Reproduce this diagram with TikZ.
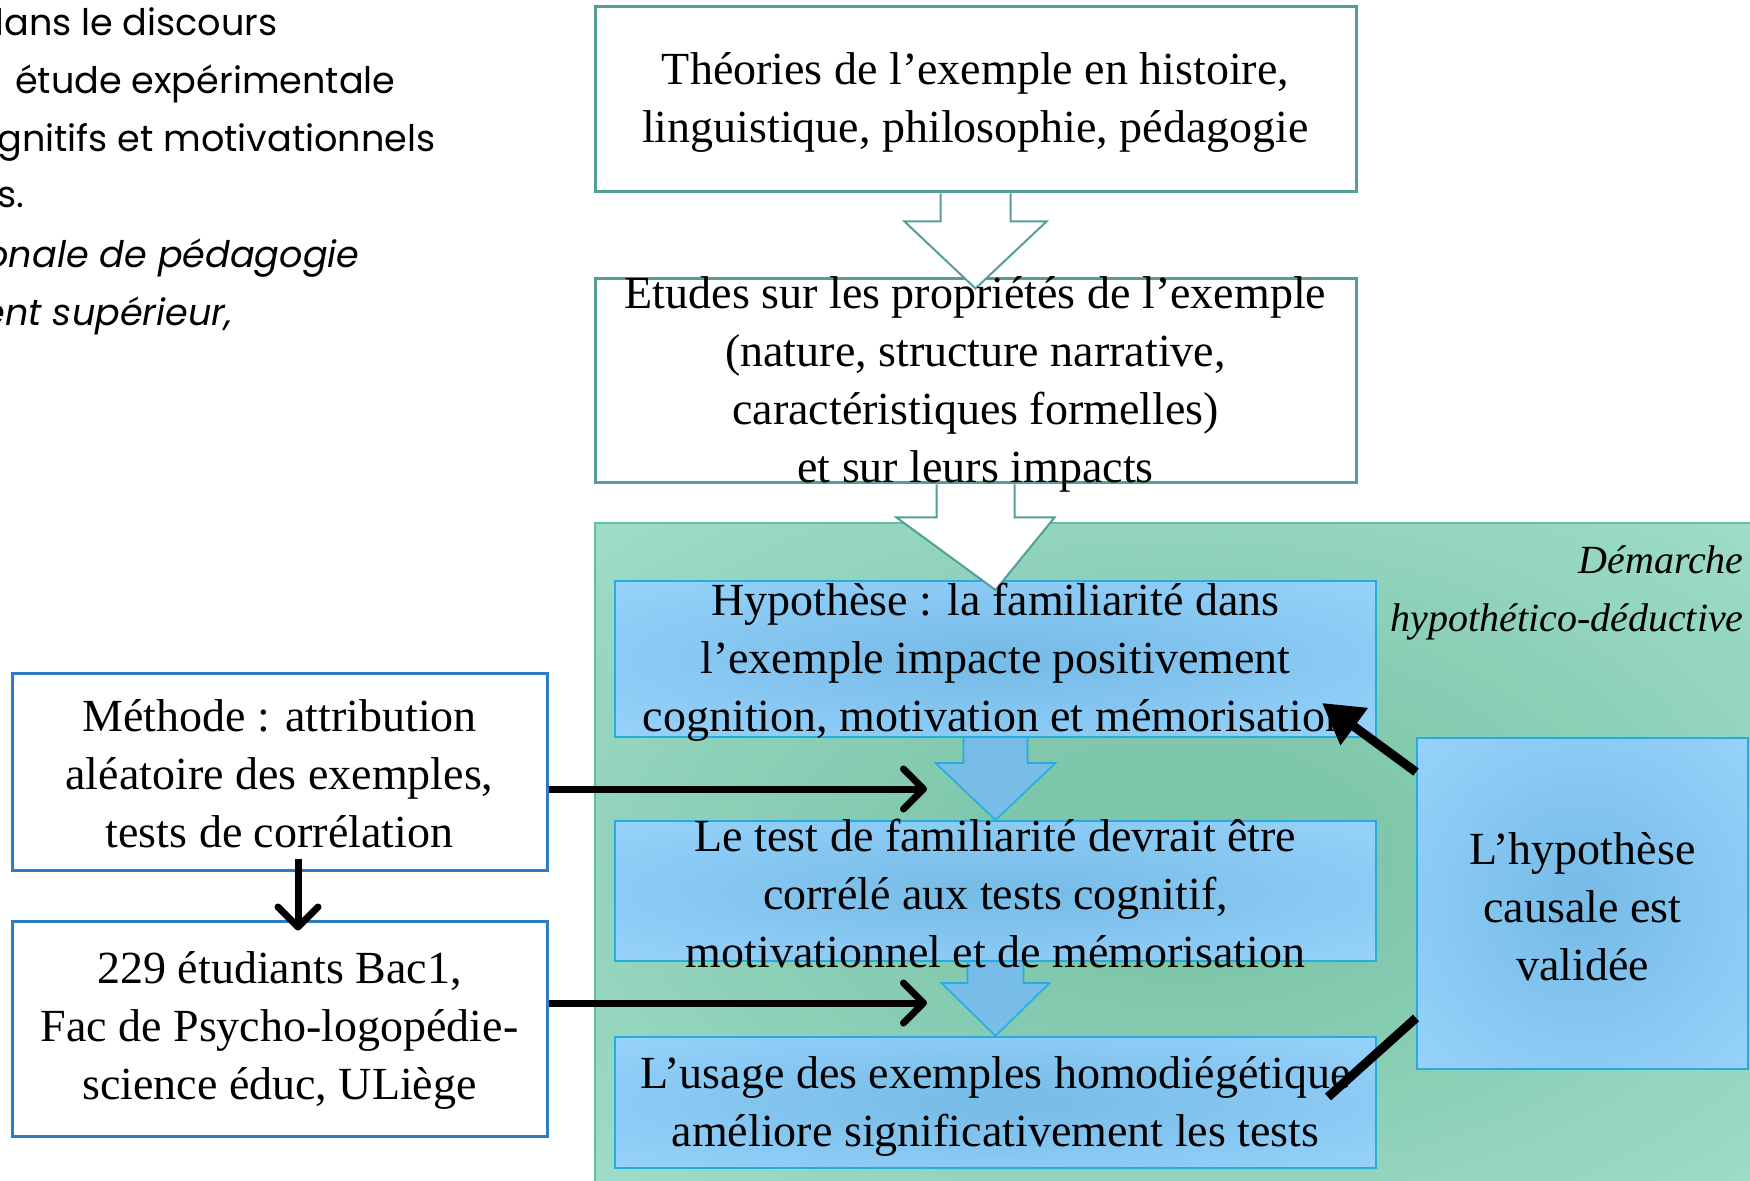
\documentclass[tikz,border=0pt]{standalone}
\usepackage{fontspec}
\setmainfont{Liberation Serif}
\newfontfamily\futfont{Poppins}
\usetikzlibrary{arrows.meta,calc,fit}
\pgfdeclarelayer{bg}
\pgfdeclarelayer{mid}
\pgfsetlayers{bg,mid,main}
\definecolor{teal1}{RGB}{84,158,154}
\definecolor{grnin}{RGB}{126,198,170}
\definecolor{grnout}{RGB}{166,226,206}
\definecolor{grnline}{RGB}{100,190,160}
\definecolor{bluein}{RGB}{120,189,232}
\definecolor{blueout}{RGB}{153,212,253}
\definecolor{cyanline}{RGB}{38,172,226}
\definecolor{leftline}{RGB}{46,125,196}
\pgfdeclareradialshading{grnrad}{\pgfpoint{0bp}{0bp}}{color(0bp)=(grnin); color(8bp)=(grnin); color(42bp)=(grnout); color(75bp)=(grnout)}
\pgfdeclareradialshading{bluerad}{\pgfpoint{0bp}{0bp}}{color(0bp)=(bluein); color(4bp)=(bluein); color(38bp)=(blueout); color(75bp)=(blueout)}
\begin{document}
\begin{tikzpicture}[x=0.5pt,y=-0.5pt,
  greenbox/.style={draw=grnline, line width=1pt, shade, shading=grnrad, inner sep=0pt},
  tealbox/.style={draw=teal1, line width=1.5pt, fill=white, inner sep=0pt},
  bluebox/.style={draw=cyanline, line width=1pt, shade, shading=bluerad, inner sep=0pt},
  leftbox/.style={draw=leftline, line width=1.5pt, fill=white, inner sep=0pt},
  txt/.style={align=center, font=\fontsize{23}{29}\selectfont, inner sep=0pt},
  tl/.style={font=\futfont\fontsize{18.3}{29}\selectfont, inner sep=0pt},
  tli/.style={font=\futfont\itshape\fontsize{18.3}{29}\selectfont, inner sep=0pt},
  hollowarr/.style={draw=teal1, line width=1pt, fill=white},
  bluearr/.style={draw=cyanline, line width=0.8pt, fill=bluein},
  blk/.style={line width=3.5pt, -{Straight Barb[length=10pt,width=20pt,round]}},
  blkbig/.style={line width=4.5pt, -{Triangle[length=20pt,width=22pt]}},
  blkline/.style={line width=4.5pt}]
\useasboundingbox (0,0) rectangle (1750,1181);
\clip (0,0) rectangle (1750,1181);

\begin{pgfonlayer}{bg}
\node[greenbox, fit={(595,523)(1765,1195)}] (grn) {};
\node[tealbox, fit={(595,7)(1356,192)}] (b1) {};
\node[tealbox, fit={(595,279)(1356,483)}] (b2) {};
\node[bluebox, fit={(615,581)(1376,737)}] (hyp) {};
\node[bluebox, fit={(615,821)(1376,961)}] (tst) {};
\node[bluebox, fit={(615,1037)(1376,1168)}] (usg) {};
\node[bluebox, fit={(1417,738)(1748,1069)}] (val) {};
\node[leftbox, fit={(12,673)(547,870)}] (meth) {};
\node[leftbox, fit={(12,921)(547,1136)}] (stud) {};
\end{pgfonlayer}

\begin{pgfonlayer}{mid}
\draw[hollowarr] ($(b1.south)+(-35,0)$) -- ($(b1.south)+(-35,28)$) -- ($(b1.south)+(-71,28)$) -- ($(b2.north)+(0,11)$) -- ($(b1.south)+(71,28)$) -- ($(b1.south)+(35,28)$) -- ($(b1.south)+(35,0)$);
\draw[hollowarr] ($(b2.south)+(-39,0)$) -- ($(b2.south)+(-39,33)$) -- ($(b2.south)+(-79,33)$) -- ($(hyp.north)+(0,10)$) -- ($(b2.south)+(79,33)$) -- ($(b2.south)+(39,33)$) -- ($(b2.south)+(39,0)$);
\draw[bluearr] ($(hyp.south)+(-32,0)$) -- ($(hyp.south)+(-32,25)$) -- ($(hyp.south)+(-60,25)$) -- (tst.north) -- ($(hyp.south)+(60,25)$) -- ($(hyp.south)+(32,25)$) -- ($(hyp.south)+(32,0)$);
\draw[bluearr] ($(tst.south)+(-28,0)$) -- ($(tst.south)+(-28,21)$) -- ($(tst.south)+(-54,21)$) -- (usg.north) -- ($(tst.south)+(54,21)$) -- ($(tst.south)+(28,21)$) -- ($(tst.south)+(28,0)$);
\end{pgfonlayer}

\node[tl, anchor=base east] (l1) at (278,36) {dans le discours};
\node[tl, anchor=base east] (l2) at (396,94) {étude expérimentale};
\node[tl, anchor=base east] (l3) at (436,152) {gnitifs et motivationnels};
\node[tl, anchor=base east] (l4) at (25,208) {s.};
\node[tli, anchor=base east] (l5) at (360,268) {onale de pédagogie};
\node[tli, anchor=base east] (l6) at (233,326) {ent supérieur,};

\node[txt] (t1) at ($(b1.center)+(0,3)$) {Théories de l’exemple en histoire,\\linguistique, philosophie, pédagogie};
\node[txt] (t2) at ($(b2.center)+(0,3)$) {Etudes sur les propriétés de l’exemple\\(nature, structure narrative,\\caractéristiques formelles)\\et sur leurs impacts};
\node[txt] (t3) at ($(hyp.center)+(0,3)$) {Hypothèse : la familiarité dans\\l’exemple impacte positivement\\cognition, motivation et mémorisation};
\node[txt] (t4) at ($(tst.center)+(0,3)$) {Le test de familiarité devrait être\\corrélé aux tests cognitif,\\motivationnel et de mémorisation};
\node[txt] (t5) at ($(usg.center)+(0,4)$) {L’usage des exemples homodiégétique\\améliore significativement les tests};
\node[txt] (t6) at ($(val.center)+(0,3)$) {L’hypothèse\\causale est\\validée};
\node[txt] (t7) at ($(meth.center)+(0,2)$) {Méthode : attribution\\aléatoire des exemples,\\tests de corrélation};
\node[txt] (t8) at ($(stud.center)+(0,2)$) {229 étudiants Bac1,\\Fac de Psycho-logopédie-\\science éduc, ULiège};
\node[anchor=east, align=right, inner sep=0pt, font=\itshape\fontsize{20}{29}\selectfont] (dem) at (1744,593) {Démarche\\hypothético-déductive};

\coordinate (e1) at (927,789);
\coordinate (e2) at (927,1003);
\coordinate (d1) at (1322,703);
\coordinate (d2) at (1328,1097);
\draw[blk] ($(meth.east)+(0,17.5)$) -- (e1);
\draw[blk] ($(stud.east)+(0,-25.5)$) -- (e2);
\draw[blk] ($(meth.south)+(18.5,-13)$) -- ($(stud.north)+(18.5,11)$);
\draw[blkbig] ($(val.west)+(0,-131.5)$) -- (d1);
\draw[blkline] ($(val.west)+(0,114.5)$) -- (d2);
\end{tikzpicture}
\end{document}
